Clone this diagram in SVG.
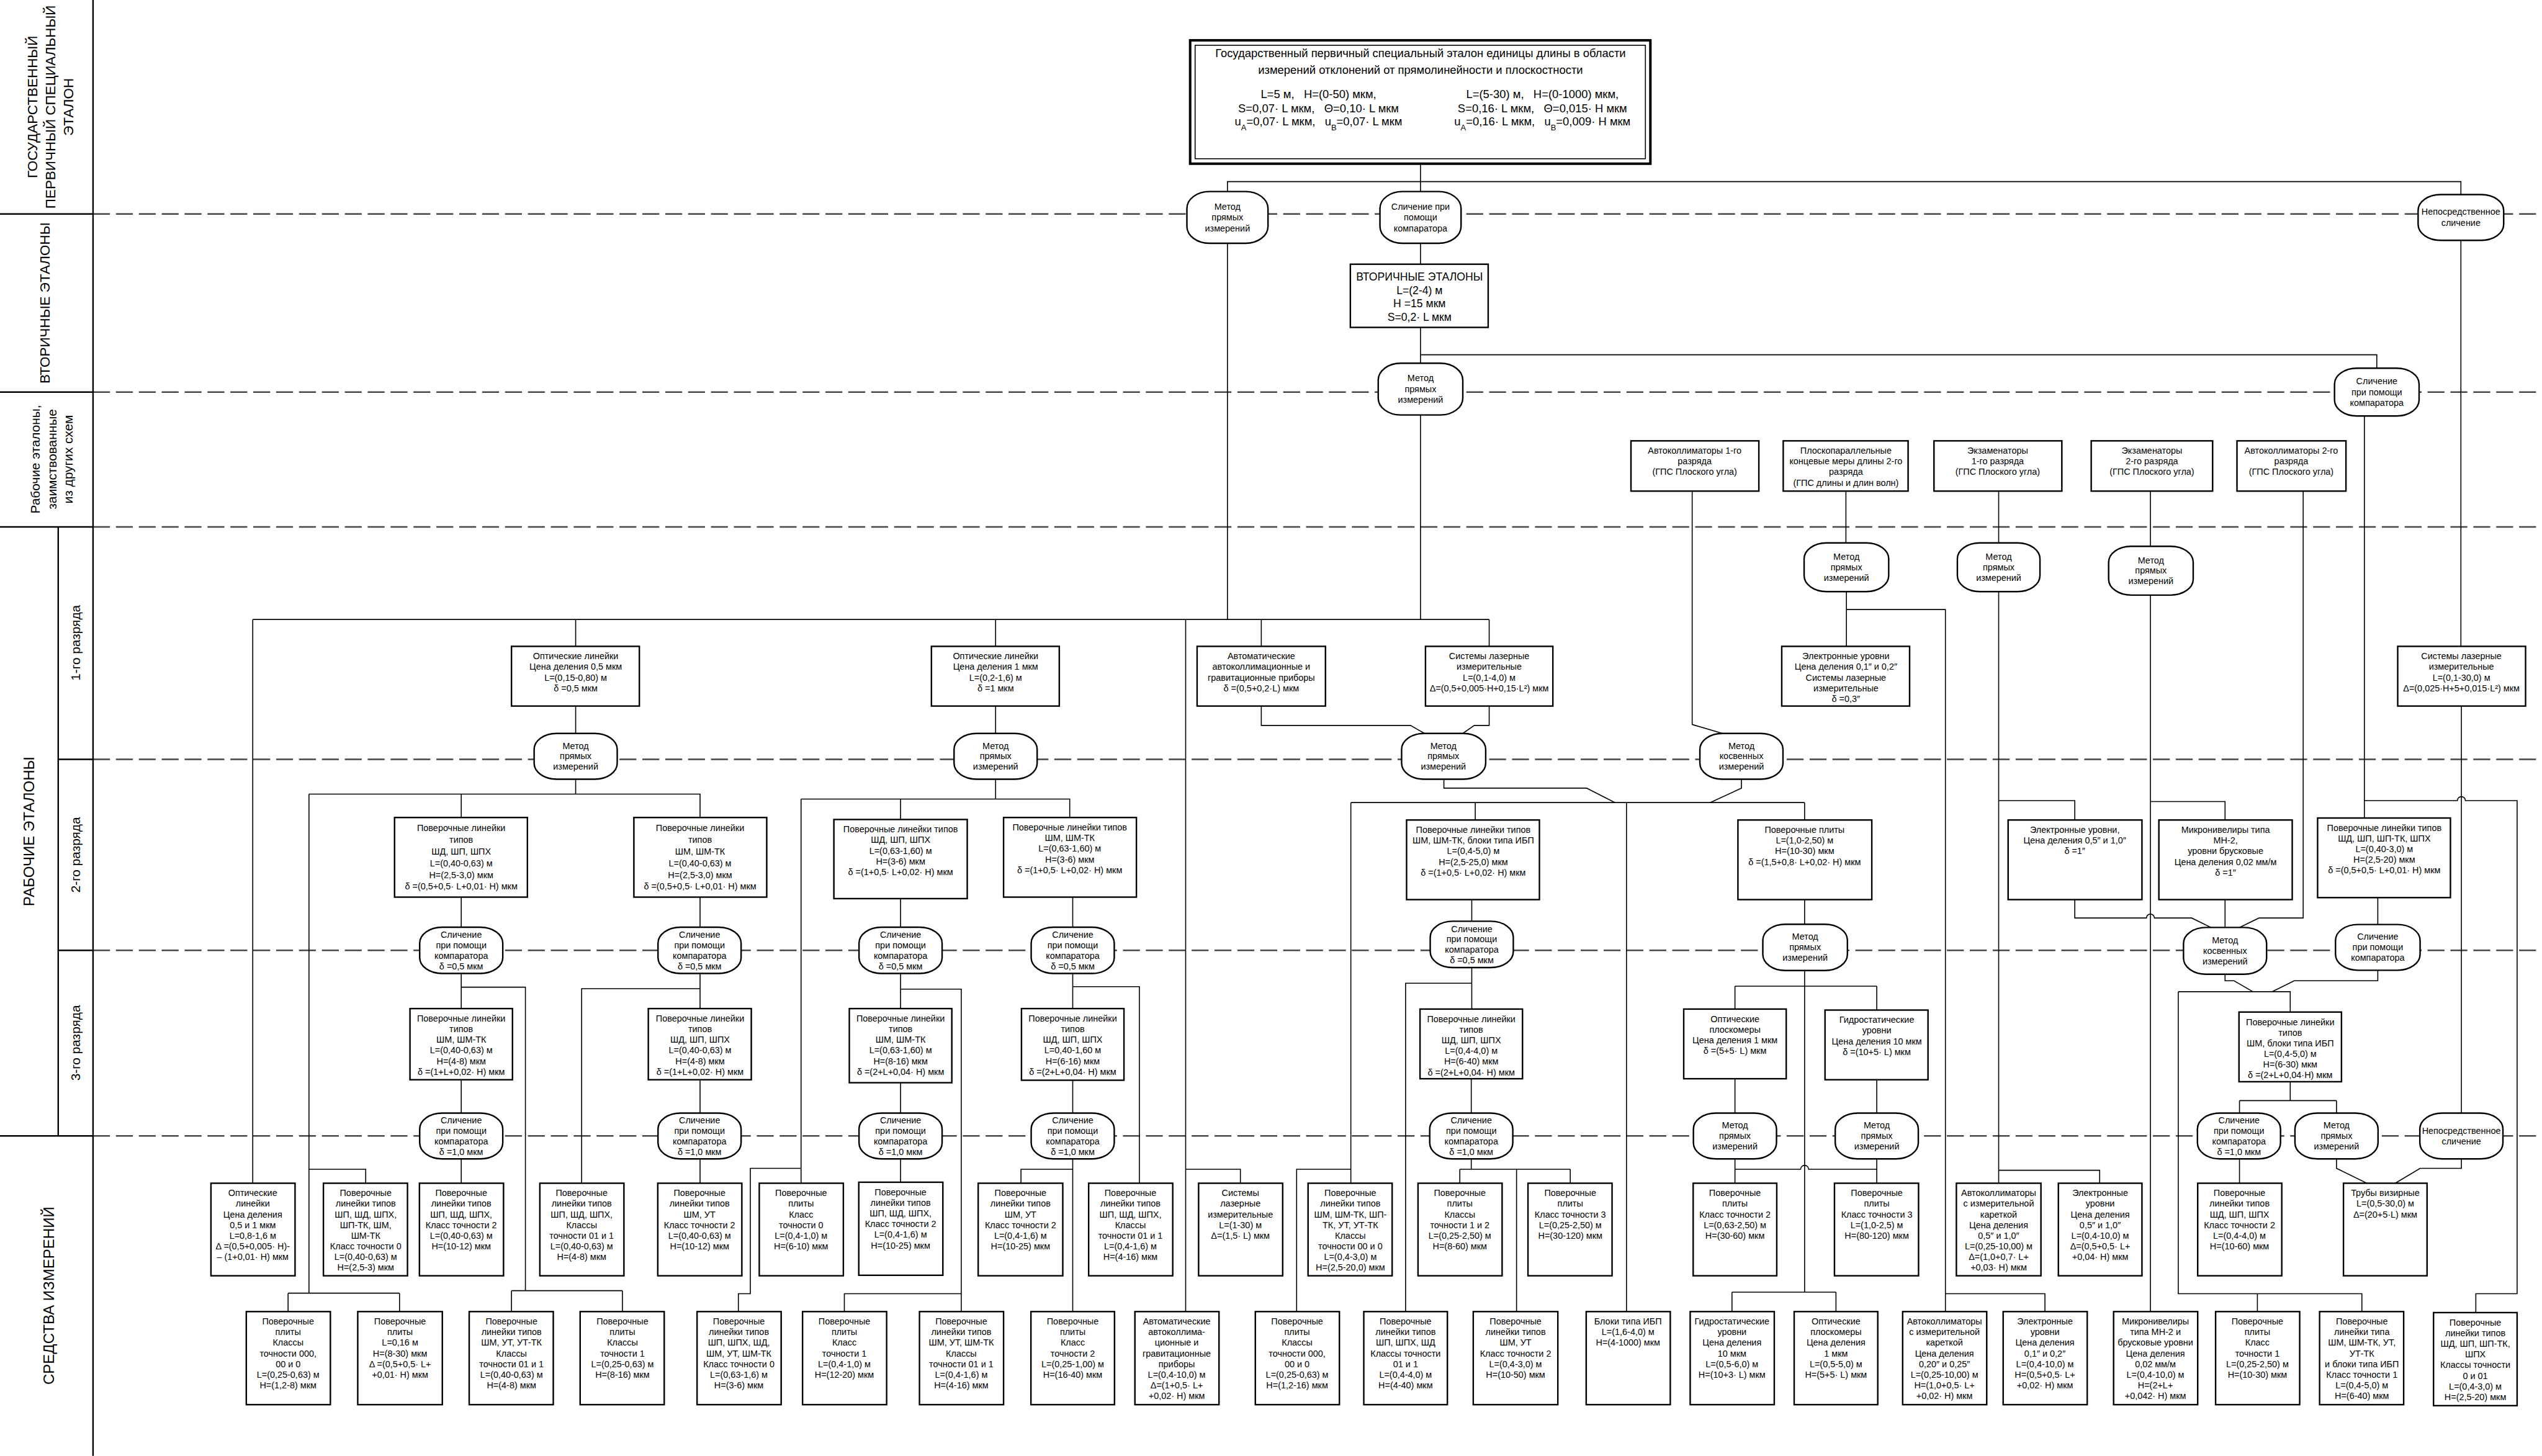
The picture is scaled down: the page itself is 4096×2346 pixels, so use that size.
<svg xmlns="http://www.w3.org/2000/svg" width="4096" height="2346" viewBox="0 0 4096 2346">
<style>
.b{fill:#fff;stroke:#000;stroke-width:3}
.o{fill:#fff;stroke:#000;stroke-width:3}
.c{fill:none;stroke:#000;stroke-width:2}
.f{fill:none;stroke:#000;stroke-width:3}
.d{fill:none;stroke:#444;stroke-width:3;stroke-dasharray:34 12}
text{font-family:"Liberation Sans",Arial,sans-serif;font-size:18px;text-anchor:middle;fill:#000}
.lb{font-size:28px}
.lm{font-size:26px}
.tt{font-size:23px}
.v{font-size:22px}
</style>
<rect width="4096" height="2346" fill="#fff"/>
<g transform="scale(0.80172)">
<g id="frame">
<path class="d" d="M187 430H5109M187 788H5109M187 1059H5109M187 1526H5109M187 1910H5109M187 2283H5109"/>
<path class="f" d="M187 0V2926M117 1059V2283M0 430H187M0 788H187M0 1059H187M0 2283H187M117 1526H187M117 1910H187"/>
<text class="lb" transform="translate(0,215) rotate(-90)"><tspan x="0" y="75">ГОСУДАРСТВЕННЫЙ</tspan><tspan x="0" y="111">ПЕРВИЧНЫЙ СПЕЦИАЛЬНЫЙ</tspan><tspan x="0" y="147">ЭТАЛОН</tspan></text>
<text class="lb" transform="translate(0,609) rotate(-90)" x="0" y="100">ВТОРИЧНЫЕ ЭТАЛОНЫ</text>
<text class="lm" transform="translate(0,923) rotate(-90)"><tspan x="0" y="80">Рабочие эталоны,</tspan><tspan x="0" y="113">заимствованные</tspan><tspan x="0" y="146">из других схем</tspan></text>
<text class="lb" style="font-size:30px" transform="translate(0,1671) rotate(-90)" x="0" y="69">РАБОЧИЕ ЭТАЛОНЫ</text>
<text class="lm" transform="translate(0,1292) rotate(-90)" x="0" y="161">1-го разряда</text>
<text class="lm" transform="translate(0,1718) rotate(-90)" x="0" y="161">2-го разряда</text>
<text class="lm" transform="translate(0,2096) rotate(-90)" x="0" y="161">3-го разряда</text>
<text class="lb" style="font-size:30px" transform="translate(0,2604) rotate(-90)" x="0" y="108">СРЕДСТВА ИЗМЕРЕНИЙ</text>
</g>
<g id="connectors">
<path class="c" d="M2855 329V385M2467 385V365H4946V391M2855 489V531M2855 658V730M2855 713H4777V740M2467 489V1245M2855 834V1245M508 1245H2993M508 1245V2378M1157 1245V1299M2001 1245V1299M2383 1245V2636M2535 1245V1299M2993 1245V1299M4946 483V1299"/>
<path class="c" d="M4752 836V1644M4752 1609H4939A8 8 0 0 1 4955 1609H5059V2600H4976V2638"/>
<path class="c" d="M3401 987V1456L3462 1474M3710 987V1091M4017 987V1091M4322 987V1098M4629 987V1845H4540L4501 1864"/>
<path class="c" d="M3711 1189V1299M3711 1225H3910V2636M3910 2600H4110V2636M4017 1189V2378M4017 1609H4170V1648M4017 2352H4220V2378M4322 1196V2636M4322 1611H4472V1648"/>
<path class="c" d="M4170 1808V1845H4314A8 8 0 0 1 4330 1845H4405L4444 1864M4472 1808V1864M4472 1958V1971H4490L4528 1993M4779 1950V1971H4611L4567 1993M4378 1993H4603V2034M4378 1993V2600H4747V2636M4537 2600V2636M4779 1804V1858"/>
<path class="c" d="M4603 2174V2212M4501 2212H4696M4501 2212V2237M4696 2212V2237M4501 2329V2378M4696 2329V2348L4757 2378M4947 2329V2348H4864L4814 2378M4947 1419V2237"/>
<path class="c" d="M1157 1419V1474M1157 1566V1596M621 1596H1407V1643M927 1596V1643M621 1596V2599M621 2350H735V2378M579 2599H803M579 2599V2636M803 2599V2636"/>
<path class="c" d="M927 1803V1864M927 1957V2027M927 1984H1056V2594M1028 2594H1251M1028 2594V2636M1251 2594V2636M927 2170V2237M927 2329V2378"/>
<path class="c" d="M1407 1803V1864M1407 1957V2027M1407 1987H1169V2378M1407 2170V2237M1407 2329V2378"/>
<path class="c" d="M2001 1419V1474M2001 1566V1606M1610 1606H2150V1643M1810 1606V1647M1610 1606V2378M1610 2348H1508V2600H1484V2636"/>
<path class="c" d="M1810 1806V1864M1810 1957V2027M1810 1988H1932V2636M1932 2600H1697V2636M1810 2176V2237M1810 2329V2376"/>
<path class="c" d="M2156 1803V1864M2156 1957V2027M2156 1983H2290V2378M2156 2171V2237M2156 2329V2636M2156 2350H2052V2378M2383 2350H2493V2378"/>
<path class="c" d="M2535 1419V1458H2835L2863 1474M2993 1419V1458H2963L2940 1474M2902 1566V1584H3189L3246 1613M3500 1566V1584L3437 1613"/>
<path class="c" d="M2715 1613H3627M2715 1613V2378M2715 2350H2606V2636M2965 1613V1648M3269 1613V2636M3627 1613V1648"/>
<path class="c" d="M2958 1808V1851M2958 1944V2028M2958 1976H2825V2636M2957 2168V2237M2957 2329V2350M2934 2350H3156M2934 2350V2378M3156 2350V2378M3048 2350V2636"/>
<path class="c" d="M3627 1808V1858M3627 1951V2597M3487 1982H3772M3487 1982V2028M3772 1982V2030M3481 2597H3690M3481 2597V2636M3690 2597V2636M3487 2168V2237M3772 2170V2237M3487 2329V2378M3772 2329V2378M3487 2350H3619A8 8 0 0 1 3635 2350H3772"/>
</g>
<g id="title">
<rect x="2392" y="81" width="925" height="248" fill="#fff" stroke="#000" stroke-width="5"/>
<rect x="2402" y="91" width="905" height="228" fill="none" stroke="#000" stroke-width="2"/>
<text class="tt" x="2855" y="115">Государственный первичный специальный эталон единицы длины в области</text>
<text class="tt" x="2855" y="148">измерений отклонений от прямолинейности и плоскостности</text>
<text class="tt" x="2650" y="197" xml:space="preserve">L=5 м,   H=(0-50) мкм,</text>
<text class="tt" x="2650" y="226" xml:space="preserve">S=0,07· L мкм,   Θ=0,10· L мкм</text>
<text class="tt" x="2650" y="252" xml:space="preserve">u<tspan baseline-shift="sub" font-size="16">A</tspan>=0,07· L мкм,   u<tspan baseline-shift="sub" font-size="16">B</tspan>=0,07· L мкм</text>
<text class="tt" x="3100" y="197" xml:space="preserve">L=(5-30) м,   H=(0-1000) мкм,</text>
<text class="tt" x="3100" y="226" xml:space="preserve">S=0,16· L мкм,   Θ=0,015· H мкм</text>
<text class="tt" x="3100" y="252" xml:space="preserve">u<tspan baseline-shift="sub" font-size="16">A</tspan>=0,16· L мкм,   u<tspan baseline-shift="sub" font-size="16">B</tspan>=0,009· H мкм</text>
</g>
<g id="s_m1"><rect class="o" x="2385.5" y="385" width="163" height="104" rx="45" ry="34"/><text x="2467" y="421"><tspan x="2467">Метод</tspan><tspan x="2467" dy="22">прямых</tspan><tspan x="2467" dy="22">измерений</tspan></text></g>
<g id="s_c1"><rect class="o" x="2773.5" y="385" width="163" height="104" rx="45" ry="34"/><text x="2855" y="421"><tspan x="2855">Сличение при</tspan><tspan x="2855" dy="22">помощи</tspan><tspan x="2855" dy="22">компаратора</tspan></text></g>
<g id="s_n1"><rect class="o" x="4860" y="391" width="172" height="92" rx="45" ry="32"/><text x="4946" y="432"><tspan x="4946">Непосредственное</tspan><tspan x="4946" dy="22">сличение</tspan></text></g>
<g id="sec"><rect class="b" x="2714" y="531" width="277" height="127"/><text class="v" x="2853" y="564"><tspan x="2853">ВТОРИЧНЫЕ ЭТАЛОНЫ</tspan><tspan x="2853" dy="27">L=(2-4) м</tspan><tspan x="2853" dy="27">H =15 мкм</tspan><tspan x="2853" dy="27">S=0,2· L мкм</tspan></text></g>
<g id="s_m2"><rect class="o" x="2770" y="730" width="170" height="104" rx="45" ry="34"/><text x="2855" y="766"><tspan x="2855">Метод</tspan><tspan x="2855" dy="22">прямых</tspan><tspan x="2855" dy="22">измерений</tspan></text></g>
<g id="s_c2"><rect class="o" x="4692" y="740" width="170" height="96" rx="45" ry="32"/><text x="4777" y="772"><tspan x="4777">Сличение</tspan><tspan x="4777" dy="22">при помощи</tspan><tspan x="4777" dy="22">компаратора</tspan></text></g>
<g id="r1"><rect class="b" x="3278" y="886" width="257" height="101"/><text x="3406" y="912"><tspan x="3406">Автоколлиматоры 1-го</tspan><tspan x="3406" dy="21.4">разряда</tspan><tspan x="3406" dy="21.4">(ГПС Плоского угла)</tspan></text></g>
<g id="r2"><rect class="b" x="3584" y="886" width="251" height="101"/><text x="3710" y="912"><tspan x="3710">Плоскопараллельные</tspan><tspan x="3710" dy="21.4">концевые меры длины 2-го</tspan><tspan x="3710" dy="21.4">разряда</tspan><tspan x="3710" dy="21.4">(ГПС длины и длин волн)</tspan></text></g>
<g id="r3"><rect class="b" x="3887" y="886" width="257" height="101"/><text x="4015" y="912"><tspan x="4015">Экзаменаторы</tspan><tspan x="4015" dy="21.4">1-го разряда</tspan><tspan x="4015" dy="21.4">(ГПС Плоского угла)</tspan></text></g>
<g id="r4"><rect class="b" x="4203" y="886" width="244" height="101"/><text x="4325" y="912"><tspan x="4325">Экзаменаторы</tspan><tspan x="4325" dy="21.4">2-го разряда</tspan><tspan x="4325" dy="21.4">(ГПС Плоского угла)</tspan></text></g>
<g id="r5"><rect class="b" x="4496" y="886" width="219" height="101"/><text x="4605" y="912"><tspan x="4605">Автоколлиматоры 2-го</tspan><tspan x="4605" dy="21.4">разряда</tspan><tspan x="4605" dy="21.4">(ГПС Плоского угла)</tspan></text></g>
<g id="o1a"><rect class="o" x="3626" y="1091" width="170" height="98" rx="45" ry="32"/><text x="3711" y="1125"><tspan x="3711">Метод</tspan><tspan x="3711" dy="21">прямых</tspan><tspan x="3711" dy="21">измерений</tspan></text></g>
<g id="o1b"><rect class="o" x="3934" y="1091" width="166" height="98" rx="45" ry="32"/><text x="4017" y="1125"><tspan x="4017">Метод</tspan><tspan x="4017" dy="21">прямых</tspan><tspan x="4017" dy="21">измерений</tspan></text></g>
<g id="o1c"><rect class="o" x="4238" y="1098" width="170" height="98" rx="45" ry="32"/><text x="4323" y="1132"><tspan x="4323">Метод</tspan><tspan x="4323" dy="21">прямых</tspan><tspan x="4323" dy="21">измерений</tspan></text></g>
<g id="b1_1"><rect class="b" x="1028" y="1299" width="257" height="120"/><text x="1157" y="1325"><tspan x="1157">Оптические линейки</tspan><tspan x="1157" dy="21.4">Цена деления 0,5 мкм</tspan><tspan x="1157" dy="21.4">L=(0,15-0,80) м</tspan><tspan x="1157" dy="21.4">δ =0,5 мкм</tspan></text></g>
<g id="b1_2"><rect class="b" x="1872" y="1299" width="257" height="120"/><text x="2001" y="1325"><tspan x="2001">Оптические линейки</tspan><tspan x="2001" dy="21.4">Цена деления 1 мкм</tspan><tspan x="2001" dy="21.4">L=(0,2-1,6) м</tspan><tspan x="2001" dy="21.4">δ =1 мкм</tspan></text></g>
<g id="b1_3"><rect class="b" x="2406" y="1299" width="258" height="120"/><text x="2535" y="1325"><tspan x="2535">Автоматические</tspan><tspan x="2535" dy="21.4">автоколлимационные и</tspan><tspan x="2535" dy="21.4">гравитационные приборы</tspan><tspan x="2535" dy="21.4">δ =(0,5+0,2·L) мкм</tspan></text></g>
<g id="b1_4"><rect class="b" x="2865" y="1299" width="256" height="120"/><text x="2993" y="1325"><tspan x="2993">Системы лазерные</tspan><tspan x="2993" dy="21.4">измерительные</tspan><tspan x="2993" dy="21.4">L=(0,1-4,0) м</tspan><tspan x="2993" dy="21.4">Δ=(0,5+0,005·H+0,15·L²) мкм</tspan></text></g>
<g id="b1_5"><rect class="b" x="3581" y="1299" width="257" height="120"/><text x="3710" y="1325"><tspan x="3710">Электронные уровни</tspan><tspan x="3710" dy="21.4">Цена деления 0,1″ и 0,2″</tspan><tspan x="3710" dy="21.4">Системы лазерные</tspan><tspan x="3710" dy="21.4">измерительные</tspan><tspan x="3710" dy="21.4">δ =0,3″</tspan></text></g>
<g id="b1_6"><rect class="b" x="4819" y="1299" width="257" height="120"/><text x="4947" y="1325"><tspan x="4947">Системы лазерные</tspan><tspan x="4947" dy="21.4">измерительные</tspan><tspan x="4947" dy="21.4">L=(0,1-30,0) м</tspan><tspan x="4947" dy="21.4">Δ=(0,025·H+5+0,015·L²) мкм</tspan></text></g>
<g id="o2a"><rect class="o" x="1073.5" y="1474" width="167" height="92" rx="45" ry="32"/><text x="1157" y="1505"><tspan x="1157">Метод</tspan><tspan x="1157" dy="21">прямых</tspan><tspan x="1157" dy="21">измерений</tspan></text></g>
<g id="o2b"><rect class="o" x="1917.5" y="1474" width="167" height="92" rx="45" ry="32"/><text x="2001" y="1505"><tspan x="2001">Метод</tspan><tspan x="2001" dy="21">прямых</tspan><tspan x="2001" dy="21">измерений</tspan></text></g>
<g id="o2c"><rect class="o" x="2817" y="1474" width="169" height="92" rx="45" ry="32"/><text x="2901" y="1505"><tspan x="2901">Метод</tspan><tspan x="2901" dy="21">прямых</tspan><tspan x="2901" dy="21">измерений</tspan></text></g>
<g id="o2d"><rect class="o" x="3416.5" y="1474" width="167" height="92" rx="45" ry="32"/><text x="3500" y="1505"><tspan x="3500">Метод</tspan><tspan x="3500" dy="21">косвенных</tspan><tspan x="3500" dy="21">измерений</tspan></text></g>
<g id="b2_1"><rect class="b" x="793" y="1643" width="267" height="160"/><text x="927" y="1670"><tspan x="927">Поверочные  линейки</tspan><tspan x="927" dy="23.6">типов</tspan><tspan x="927" dy="23.6">ШД, ШП, ШПХ</tspan><tspan x="927" dy="23.6">L=(0,40-0,63) м</tspan><tspan x="927" dy="23.6">H=(2,5-3,0) мкм</tspan><tspan x="927" dy="23.6">δ =(0,5+0,5· L+0,01· H) мкм</tspan></text></g>
<g id="b2_2"><rect class="b" x="1274" y="1643" width="267" height="160"/><text x="1407" y="1670"><tspan x="1407">Поверочные  линейки</tspan><tspan x="1407" dy="23.6">типов</tspan><tspan x="1407" dy="23.6">ШМ, ШМ-ТК</tspan><tspan x="1407" dy="23.6">L=(0,40-0,63) м</tspan><tspan x="1407" dy="23.6">H=(2,5-3,0) мкм</tspan><tspan x="1407" dy="23.6">δ =(0,5+0,5· L+0,01· H) мкм</tspan></text></g>
<g id="b2_3"><rect class="b" x="1676" y="1647" width="268" height="159"/><text x="1810" y="1673"><tspan x="1810">Поверочные  линейки типов</tspan><tspan x="1810" dy="21.4">ШД, ШП, ШПХ</tspan><tspan x="1810" dy="21.4">L=(0,63-1,60) м</tspan><tspan x="1810" dy="21.4">H=(3-6) мкм</tspan><tspan x="1810" dy="21.4">δ =(1+0,5· L+0,02· H) мкм</tspan></text></g>
<g id="b2_4"><rect class="b" x="2017" y="1643" width="267" height="160"/><text x="2150" y="1669"><tspan x="2150">Поверочные  линейки типов</tspan><tspan x="2150" dy="21.4">ШМ, ШМ-ТК</tspan><tspan x="2150" dy="21.4">L=(0,63-1,60) м</tspan><tspan x="2150" dy="21.4">H=(3-6) мкм</tspan><tspan x="2150" dy="21.4">δ =(1+0,5· L+0,02· H) мкм</tspan></text></g>
<g id="b2_5"><rect class="b" x="2827" y="1648" width="267" height="160"/><text x="2961" y="1674"><tspan x="2961">Поверочные  линейки типов</tspan><tspan x="2961" dy="21.4">ШМ, ШМ-ТК, блоки типа ИБП</tspan><tspan x="2961" dy="21.4">L=(0,4-5,0) м</tspan><tspan x="2961" dy="21.4">H=(2,5-25,0) мкм</tspan><tspan x="2961" dy="21.4">δ =(1+0,5· L+0,02· H) мкм</tspan></text></g>
<g id="b2_6"><rect class="b" x="3493" y="1648" width="269" height="160"/><text x="3627" y="1674"><tspan x="3627">Поверочные плиты</tspan><tspan x="3627" dy="21.4">L=(1,0-2,50) м</tspan><tspan x="3627" dy="21.4">H=(10-30) мкм</tspan><tspan x="3627" dy="21.4">δ =(1,5+0,8· L+0,02· H) мкм</tspan></text></g>
<g id="b2_7"><rect class="b" x="4036" y="1648" width="269" height="160"/><text x="4170" y="1674"><tspan x="4170">Электронные уровни,</tspan><tspan x="4170" dy="21.4">Цена деления 0,5″ и 1,0″</tspan><tspan x="4170" dy="21.4">δ =1″</tspan></text></g>
<g id="b2_8"><rect class="b" x="4339" y="1648" width="268" height="160"/><text x="4473" y="1674"><tspan x="4473">Микронивелиры типа</tspan><tspan x="4473" dy="21.4">МН-2,</tspan><tspan x="4473" dy="21.4">уровни брусковые</tspan><tspan x="4473" dy="21.4">Цена деления 0,02 мм/м</tspan><tspan x="4473" dy="21.4">δ =1″</tspan></text></g>
<g id="b2_9"><rect class="b" x="4658" y="1644" width="267" height="160"/><text x="4792" y="1670"><tspan x="4792">Поверочные  линейки типов</tspan><tspan x="4792" dy="21.4">ШД, ШП, ШП-ТК, ШПХ</tspan><tspan x="4792" dy="21.4">L=(0,40-3,0) м</tspan><tspan x="4792" dy="21.4">H=(2,5-20) мкм</tspan><tspan x="4792" dy="21.4">δ =(0,5+0,5· L+0,01· H) мкм</tspan></text></g>
<g id="o3a"><rect class="o" x="843.5" y="1863.5" width="167" height="93" rx="45" ry="32"/><text x="927" y="1885"><tspan x="927">Сличение</tspan><tspan x="927" dy="21">при помощи</tspan><tspan x="927" dy="21">компаратора</tspan><tspan x="927" dy="21">δ =0,5 мкм</tspan></text></g>
<g id="o3b"><rect class="o" x="1322.5" y="1863.5" width="167" height="93" rx="45" ry="32"/><text x="1406" y="1885"><tspan x="1406">Сличение</tspan><tspan x="1406" dy="21">при помощи</tspan><tspan x="1406" dy="21">компаратора</tspan><tspan x="1406" dy="21">δ =0,5 мкм</tspan></text></g>
<g id="o3c"><rect class="o" x="1726.5" y="1863.5" width="167" height="93" rx="45" ry="32"/><text x="1810" y="1885"><tspan x="1810">Сличение</tspan><tspan x="1810" dy="21">при помощи</tspan><tspan x="1810" dy="21">компаратора</tspan><tspan x="1810" dy="21">δ =0,5 мкм</tspan></text></g>
<g id="o3d"><rect class="o" x="2072.5" y="1863.5" width="167" height="93" rx="45" ry="32"/><text x="2156" y="1885"><tspan x="2156">Сличение</tspan><tspan x="2156" dy="21">при помощи</tspan><tspan x="2156" dy="21">компаратора</tspan><tspan x="2156" dy="21">δ =0,5 мкм</tspan></text></g>
<g id="o3e"><rect class="o" x="2874.5" y="1851.5" width="167" height="93" rx="45" ry="32"/><text x="2958" y="1873"><tspan x="2958">Сличение</tspan><tspan x="2958" dy="21">при помощи</tspan><tspan x="2958" dy="21">компаратора</tspan><tspan x="2958" dy="21">δ =0,5 мкм</tspan></text></g>
<g id="o3f"><rect class="o" x="3543" y="1857.5" width="170" height="93" rx="45" ry="32"/><text x="3628" y="1889"><tspan x="3628">Метод</tspan><tspan x="3628" dy="21">прямых</tspan><tspan x="3628" dy="21">измерений</tspan></text></g>
<g id="o3g"><rect class="o" x="4388.5" y="1864" width="167" height="94" rx="45" ry="32"/><text x="4472" y="1896"><tspan x="4472">Метод</tspan><tspan x="4472" dy="21">косвенных</tspan><tspan x="4472" dy="21">измерений</tspan></text></g>
<g id="o3h"><rect class="o" x="4694" y="1858" width="170" height="92" rx="45" ry="32"/><text x="4779" y="1889"><tspan x="4779">Сличение</tspan><tspan x="4779" dy="21">при помощи</tspan><tspan x="4779" dy="21">компаратора</tspan></text></g>
<g id="b3_1"><rect class="b" x="824" y="2027" width="206" height="143"/><text x="927" y="2053"><tspan x="927">Поверочные  линейки</tspan><tspan x="927" dy="21.4">типов</tspan><tspan x="927" dy="21.4">ШМ, ШМ-ТК</tspan><tspan x="927" dy="21.4">L=(0,40-0,63) м</tspan><tspan x="927" dy="21.4">H=(4-8) мкм</tspan><tspan x="927" dy="21.4">δ =(1+L+0,02· H) мкм</tspan></text></g>
<g id="b3_2"><rect class="b" x="1303" y="2027" width="207" height="143"/><text x="1407" y="2053"><tspan x="1407">Поверочные  линейки</tspan><tspan x="1407" dy="21.4">типов</tspan><tspan x="1407" dy="21.4">ШД, ШП, ШПХ</tspan><tspan x="1407" dy="21.4">L=(0,40-0,63) м</tspan><tspan x="1407" dy="21.4">H=(4-8) мкм</tspan><tspan x="1407" dy="21.4">δ =(1+L+0,02· H) мкм</tspan></text></g>
<g id="b3_3"><rect class="b" x="1707" y="2027" width="206" height="149"/><text x="1810" y="2053"><tspan x="1810">Поверочные  линейки</tspan><tspan x="1810" dy="21.4">типов</tspan><tspan x="1810" dy="21.4">ШМ, ШМ-ТК</tspan><tspan x="1810" dy="21.4">L=(0,63-1,60) м</tspan><tspan x="1810" dy="21.4">H=(8-16) мкм</tspan><tspan x="1810" dy="21.4">δ =(2+L+0,04· H) мкм</tspan></text></g>
<g id="b3_4"><rect class="b" x="2053" y="2027" width="206" height="144"/><text x="2156" y="2053"><tspan x="2156">Поверочные  линейки</tspan><tspan x="2156" dy="21.4">типов</tspan><tspan x="2156" dy="21.4">ШД, ШП, ШПХ</tspan><tspan x="2156" dy="21.4">L=0,40-1,60 м</tspan><tspan x="2156" dy="21.4">H=(6-16) мкм</tspan><tspan x="2156" dy="21.4">δ =(2+L+0,04· H) мкм</tspan></text></g>
<g id="b3_5"><rect class="b" x="2854" y="2028" width="206" height="140"/><text x="2957" y="2054"><tspan x="2957">Поверочные  линейки</tspan><tspan x="2957" dy="21.4">типов</tspan><tspan x="2957" dy="21.4">ШД, ШП, ШПХ</tspan><tspan x="2957" dy="21.4">L=(0,4-4,0) м</tspan><tspan x="2957" dy="21.4">H=(6-40) мкм</tspan><tspan x="2957" dy="21.4">δ =(2+L+0,04· H) мкм</tspan></text></g>
<g id="b3_6"><rect class="b" x="3384" y="2028" width="206" height="140"/><text x="3487" y="2054"><tspan x="3487">Оптические</tspan><tspan x="3487" dy="21.4">плоскомеры</tspan><tspan x="3487" dy="21.4">Цена деления 1 мкм</tspan><tspan x="3487" dy="21.4">δ =(5+5· L) мкм</tspan></text></g>
<g id="b3_7"><rect class="b" x="3668" y="2030" width="207" height="140"/><text x="3772" y="2056"><tspan x="3772">Гидростатические</tspan><tspan x="3772" dy="21.4">уровни</tspan><tspan x="3772" dy="21.4">Цена деления 10 мкм</tspan><tspan x="3772" dy="21.4">δ =(10+5· L) мкм</tspan></text></g>
<g id="b3_8"><rect class="b" x="4500" y="2034" width="206" height="140"/><text x="4603" y="2060"><tspan x="4603">Поверочные  линейки</tspan><tspan x="4603" dy="21.4">типов</tspan><tspan x="4603" dy="21.4">ШМ, блоки типа ИБП</tspan><tspan x="4603" dy="21.4">L=(0,4-5,0) м</tspan><tspan x="4603" dy="21.4">H=(6-30) мкм</tspan><tspan x="4603" dy="21.4">δ =(2+L+0,04·H) мкм</tspan></text></g>
<g id="o4a"><rect class="o" x="843.5" y="2237" width="167" height="92" rx="45" ry="32"/><text x="927" y="2258"><tspan x="927">Сличение</tspan><tspan x="927" dy="21">при помощи</tspan><tspan x="927" dy="21">компаратора</tspan><tspan x="927" dy="21">δ =1,0 мкм</tspan></text></g>
<g id="o4b"><rect class="o" x="1322.5" y="2237" width="167" height="92" rx="45" ry="32"/><text x="1406" y="2258"><tspan x="1406">Сличение</tspan><tspan x="1406" dy="21">при помощи</tspan><tspan x="1406" dy="21">компаратора</tspan><tspan x="1406" dy="21">δ =1,0 мкм</tspan></text></g>
<g id="o4c"><rect class="o" x="1726.5" y="2237" width="167" height="92" rx="45" ry="32"/><text x="1810" y="2258"><tspan x="1810">Сличение</tspan><tspan x="1810" dy="21">при помощи</tspan><tspan x="1810" dy="21">компаратора</tspan><tspan x="1810" dy="21">δ =1,0 мкм</tspan></text></g>
<g id="o4d"><rect class="o" x="2072.5" y="2237" width="167" height="92" rx="45" ry="32"/><text x="2156" y="2258"><tspan x="2156">Сличение</tspan><tspan x="2156" dy="21">при помощи</tspan><tspan x="2156" dy="21">компаратора</tspan><tspan x="2156" dy="21">δ =1,0 мкм</tspan></text></g>
<g id="o4e"><rect class="o" x="2873.5" y="2237" width="167" height="92" rx="45" ry="32"/><text x="2957" y="2258"><tspan x="2957">Сличение</tspan><tspan x="2957" dy="21">при помощи</tspan><tspan x="2957" dy="21">компаратора</tspan><tspan x="2957" dy="21">δ =1,0 мкм</tspan></text></g>
<g id="o4f"><rect class="o" x="3403.5" y="2237" width="167" height="92" rx="45" ry="32"/><text x="3487" y="2268"><tspan x="3487">Метод</tspan><tspan x="3487" dy="21">прямых</tspan><tspan x="3487" dy="21">измерений</tspan></text></g>
<g id="o4g"><rect class="o" x="3688.5" y="2237" width="167" height="92" rx="45" ry="32"/><text x="3772" y="2268"><tspan x="3772">Метод</tspan><tspan x="3772" dy="21">прямых</tspan><tspan x="3772" dy="21">измерений</tspan></text></g>
<g id="o4h"><rect class="o" x="4416.5" y="2237" width="167" height="92" rx="45" ry="32"/><text x="4500" y="2258"><tspan x="4500">Сличение</tspan><tspan x="4500" dy="21">при помощи</tspan><tspan x="4500" dy="21">компаратора</tspan><tspan x="4500" dy="21">δ =1,0 мкм</tspan></text></g>
<g id="o4i"><rect class="o" x="4612.5" y="2237" width="167" height="92" rx="45" ry="32"/><text x="4696" y="2268"><tspan x="4696">Метод</tspan><tspan x="4696" dy="21">прямых</tspan><tspan x="4696" dy="21">измерений</tspan></text></g>
<g id="o4j"><rect class="o" x="4863.5" y="2237" width="167" height="92" rx="45" ry="32"/><text x="4947" y="2279"><tspan x="4947">Непосредственное</tspan><tspan x="4947" dy="21">сличение</tspan></text></g>
<g id="m1"><rect class="b" x="424" y="2378" width="169" height="186"/><text x="508" y="2404"><tspan x="508">Оптические</tspan><tspan x="508" dy="21.4">линейки</tspan><tspan x="508" dy="21.4">Цена деления</tspan><tspan x="508" dy="21.4">0,5 и 1 мкм</tspan><tspan x="508" dy="21.4">L=0,8-1,6 м</tspan><tspan x="508" dy="21.4">Δ =(0,5+0,005· H)-</tspan><tspan x="508" dy="21.4">– (1+0,01· H) мкм</tspan></text></g>
<g id="m2"><rect class="b" x="650" y="2378" width="169" height="186"/><text x="735" y="2404"><tspan x="735">Поверочные</tspan><tspan x="735" dy="21.4">линейки типов</tspan><tspan x="735" dy="21.4">ШП, ШД, ШПХ,</tspan><tspan x="735" dy="21.4">ШП-ТК, ШМ,</tspan><tspan x="735" dy="21.4">ШМ-ТК</tspan><tspan x="735" dy="21.4">Класс  точности 0</tspan><tspan x="735" dy="21.4">L=(0,40-0,63) м</tspan><tspan x="735" dy="21.4">H=(2,5-3) мкм</tspan></text></g>
<g id="m3"><rect class="b" x="843" y="2378" width="169" height="186"/><text x="927" y="2404"><tspan x="927">Поверочные</tspan><tspan x="927" dy="21.4">линейки типов</tspan><tspan x="927" dy="21.4">ШП, ШД, ШПХ,</tspan><tspan x="927" dy="21.4">Класс  точности 2</tspan><tspan x="927" dy="21.4">L=(0,40-0,63) м</tspan><tspan x="927" dy="21.4">H=(10-12) мкм</tspan></text></g>
<g id="m4"><rect class="b" x="1085" y="2378" width="169" height="186"/><text x="1169" y="2404"><tspan x="1169">Поверочные</tspan><tspan x="1169" dy="21.4">линейки типов</tspan><tspan x="1169" dy="21.4">ШП, ШД, ШПХ,</tspan><tspan x="1169" dy="21.4">Классы</tspan><tspan x="1169" dy="21.4">точности 01 и 1</tspan><tspan x="1169" dy="21.4">L=(0,40-0,63) м</tspan><tspan x="1169" dy="21.4">H=(4-8) мкм</tspan></text></g>
<g id="m5"><rect class="b" x="1322" y="2378" width="169" height="186"/><text x="1406" y="2404"><tspan x="1406">Поверочные</tspan><tspan x="1406" dy="21.4">линейки типов</tspan><tspan x="1406" dy="21.4">ШМ, УТ</tspan><tspan x="1406" dy="21.4">Класс  точности 2</tspan><tspan x="1406" dy="21.4">L=(0,40-0,63) м</tspan><tspan x="1406" dy="21.4">H=(10-12) мкм</tspan></text></g>
<g id="m6"><rect class="b" x="1526" y="2378" width="169" height="186"/><text x="1610" y="2404"><tspan x="1610">Поверочные</tspan><tspan x="1610" dy="21.4">плиты</tspan><tspan x="1610" dy="21.4">Класс</tspan><tspan x="1610" dy="21.4">точности 0</tspan><tspan x="1610" dy="21.4">L=(0,4-1,0) м</tspan><tspan x="1610" dy="21.4">H=(6-10) мкм</tspan></text></g>
<g id="m7"><rect class="b" x="1726" y="2376" width="169" height="187"/><text x="1810" y="2402"><tspan x="1810">Поверочные</tspan><tspan x="1810" dy="21.4">линейки типов</tspan><tspan x="1810" dy="21.4">ШП, ШД, ШПХ,</tspan><tspan x="1810" dy="21.4">Класс  точности 2</tspan><tspan x="1810" dy="21.4">L=(0,4-1,6) м</tspan><tspan x="1810" dy="21.4">H=(10-25) мкм</tspan></text></g>
<g id="m8"><rect class="b" x="1966" y="2378" width="170" height="186"/><text x="2051" y="2404"><tspan x="2051">Поверочные</tspan><tspan x="2051" dy="21.4">линейки типов</tspan><tspan x="2051" dy="21.4">ШМ, УТ</tspan><tspan x="2051" dy="21.4">Класс точности 2</tspan><tspan x="2051" dy="21.4">L=(0,4-1,6) м</tspan><tspan x="2051" dy="21.4">H=(10-25) мкм</tspan></text></g>
<g id="m9"><rect class="b" x="2188" y="2378" width="169" height="186"/><text x="2272" y="2404"><tspan x="2272">Поверочные</tspan><tspan x="2272" dy="21.4">линейки типов</tspan><tspan x="2272" dy="21.4">ШП, ШД, ШПХ,</tspan><tspan x="2272" dy="21.4">Классы</tspan><tspan x="2272" dy="21.4">точности 01 и 1</tspan><tspan x="2272" dy="21.4">L=(0,4-1,6) м</tspan><tspan x="2272" dy="21.4">H=(4-16) мкм</tspan></text></g>
<g id="m10"><rect class="b" x="2409" y="2378" width="169" height="186"/><text x="2493" y="2404"><tspan x="2493">Системы</tspan><tspan x="2493" dy="21.4">лазерные</tspan><tspan x="2493" dy="21.4">измерительные</tspan><tspan x="2493" dy="21.4">L=(1-30) м</tspan><tspan x="2493" dy="21.4">Δ=(1,5· L) мкм</tspan></text></g>
<g id="m11"><rect class="b" x="2629" y="2378" width="169" height="186"/><text x="2714" y="2404"><tspan x="2714">Поверочные</tspan><tspan x="2714" dy="21.4">линейки типов</tspan><tspan x="2714" dy="21.4">ШМ, ШМ-ТК, ШП-</tspan><tspan x="2714" dy="21.4">ТК, УТ, УТ-ТК</tspan><tspan x="2714" dy="21.4">Классы</tspan><tspan x="2714" dy="21.4">точности 00 и 0</tspan><tspan x="2714" dy="21.4">L=(0,4-3,0) м</tspan><tspan x="2714" dy="21.4">H=(2,5-20,0) мкм</tspan></text></g>
<g id="m12"><rect class="b" x="2850" y="2378" width="169" height="186"/><text x="2934" y="2404"><tspan x="2934">Поверочные</tspan><tspan x="2934" dy="21.4">плиты</tspan><tspan x="2934" dy="21.4">Классы</tspan><tspan x="2934" dy="21.4">точности 1 и 2</tspan><tspan x="2934" dy="21.4">L=(0,25-2,50) м</tspan><tspan x="2934" dy="21.4">H=(8-60) мкм</tspan></text></g>
<g id="m13"><rect class="b" x="3071" y="2378" width="169" height="186"/><text x="3156" y="2404"><tspan x="3156">Поверочные</tspan><tspan x="3156" dy="21.4">плиты</tspan><tspan x="3156" dy="21.4">Класс точности 3</tspan><tspan x="3156" dy="21.4">L=(0,25-2,50) м</tspan><tspan x="3156" dy="21.4">H=(30-120) мкм</tspan></text></g>
<g id="m14"><rect class="b" x="3403" y="2378" width="168" height="186"/><text x="3487" y="2404"><tspan x="3487">Поверочные</tspan><tspan x="3487" dy="21.4">плиты</tspan><tspan x="3487" dy="21.4">Класс точности 2</tspan><tspan x="3487" dy="21.4">L=(0,63-2,50) м</tspan><tspan x="3487" dy="21.4">H=(30-60) мкм</tspan></text></g>
<g id="m15"><rect class="b" x="3687" y="2378" width="169" height="186"/><text x="3772" y="2404"><tspan x="3772">Поверочные</tspan><tspan x="3772" dy="21.4">плиты</tspan><tspan x="3772" dy="21.4">Класс точности 3</tspan><tspan x="3772" dy="21.4">L=(1,0-2,5) м</tspan><tspan x="3772" dy="21.4">H=(80-120) мкм</tspan></text></g>
<g id="mua"><rect class="b" x="3932" y="2378" width="170" height="186"/><text x="4017" y="2404"><tspan x="4017">Автоколлиматоры</tspan><tspan x="4017" dy="21.4">с измерительной</tspan><tspan x="4017" dy="21.4">кареткой</tspan><tspan x="4017" dy="21.4">Цена деления</tspan><tspan x="4017" dy="21.4">0,5″ и 1,0″</tspan><tspan x="4017" dy="21.4">L=(0,25-10,00) м</tspan><tspan x="4017" dy="21.4">Δ=(1,0+0,7· L+</tspan><tspan x="4017" dy="21.4">+0,03· H) мкм</tspan></text></g>
<g id="mub"><rect class="b" x="4137" y="2378" width="168" height="186"/><text x="4221" y="2404"><tspan x="4221">Электронные</tspan><tspan x="4221" dy="21.4">уровни</tspan><tspan x="4221" dy="21.4">Цена деления</tspan><tspan x="4221" dy="21.4">0,5″ и 1,0″</tspan><tspan x="4221" dy="21.4">L=(0,4-10,0) м</tspan><tspan x="4221" dy="21.4">Δ=(0,5+0,5· L+</tspan><tspan x="4221" dy="21.4">+0,04· H) мкм</tspan></text></g>
<g id="m16"><rect class="b" x="4417" y="2378" width="169" height="186"/><text x="4501" y="2404"><tspan x="4501">Поверочные</tspan><tspan x="4501" dy="21.4">линейки типов</tspan><tspan x="4501" dy="21.4">ШД, ШП, ШПХ</tspan><tspan x="4501" dy="21.4">Класс точности 2</tspan><tspan x="4501" dy="21.4">L=(0,4-4,0) м</tspan><tspan x="4501" dy="21.4">H=(10-60) мкм</tspan></text></g>
<g id="m17"><rect class="b" x="4710" y="2378" width="168" height="186"/><text x="4794" y="2404"><tspan x="4794">Трубы визирные</tspan><tspan x="4794" dy="21.4">L=(0,5-30,0) м</tspan><tspan x="4794" dy="21.4">Δ=(20+5·L) мкм</tspan></text></g>
<g id="l1"><rect class="b" x="495" y="2636" width="169" height="187"/><text x="579" y="2662"><tspan x="579">Поверочные</tspan><tspan x="579" dy="21.4">плиты</tspan><tspan x="579" dy="21.4">Классы</tspan><tspan x="579" dy="21.4">точности 000,</tspan><tspan x="579" dy="21.4">00 и 0</tspan><tspan x="579" dy="21.4">L=(0,25-0,63) м</tspan><tspan x="579" dy="21.4">H=(1,2-8) мкм</tspan></text></g>
<g id="l2"><rect class="b" x="719" y="2636" width="170" height="187"/><text x="804" y="2662"><tspan x="804">Поверочные</tspan><tspan x="804" dy="21.4">плиты</tspan><tspan x="804" dy="21.4">L=0,16 м</tspan><tspan x="804" dy="21.4">H=(8-30) мкм</tspan><tspan x="804" dy="21.4">Δ =(0,5+0,5· L+</tspan><tspan x="804" dy="21.4">+0,01· H) мкм</tspan></text></g>
<g id="l3"><rect class="b" x="943" y="2636" width="169" height="187"/><text x="1028" y="2662"><tspan x="1028">Поверочные</tspan><tspan x="1028" dy="21.4">линейки типов</tspan><tspan x="1028" dy="21.4">ШМ, УТ, УТ-ТК</tspan><tspan x="1028" dy="21.4">Классы</tspan><tspan x="1028" dy="21.4">точности 01 и 1</tspan><tspan x="1028" dy="21.4">L=(0,40-0,63) м</tspan><tspan x="1028" dy="21.4">H=(4-8) мкм</tspan></text></g>
<g id="l4"><rect class="b" x="1166" y="2636" width="169" height="187"/><text x="1251" y="2662"><tspan x="1251">Поверочные</tspan><tspan x="1251" dy="21.4">плиты</tspan><tspan x="1251" dy="21.4">Классы</tspan><tspan x="1251" dy="21.4">точности 1</tspan><tspan x="1251" dy="21.4">L=(0,25-0,63) м</tspan><tspan x="1251" dy="21.4">H=(8-16) мкм</tspan></text></g>
<g id="l5"><rect class="b" x="1401" y="2636" width="169" height="187"/><text x="1485" y="2662"><tspan x="1485">Поверочные</tspan><tspan x="1485" dy="21.4">линейки типов</tspan><tspan x="1485" dy="21.4">ШП, ШПХ, ШД,</tspan><tspan x="1485" dy="21.4">ШМ, УТ, ШМ-ТК</tspan><tspan x="1485" dy="21.4">Класс  точности 0</tspan><tspan x="1485" dy="21.4">L=(0,63-1,6) м</tspan><tspan x="1485" dy="21.4">H=(3-6) мкм</tspan></text></g>
<g id="l6"><rect class="b" x="1613" y="2636" width="169" height="187"/><text x="1697" y="2662"><tspan x="1697">Поверочные</tspan><tspan x="1697" dy="21.4">плиты</tspan><tspan x="1697" dy="21.4">Класс</tspan><tspan x="1697" dy="21.4">точности 1</tspan><tspan x="1697" dy="21.4">L=(0,4-1,0) м</tspan><tspan x="1697" dy="21.4">H=(12-20) мкм</tspan></text></g>
<g id="l7"><rect class="b" x="1848" y="2636" width="169" height="187"/><text x="1932" y="2662"><tspan x="1932">Поверочные</tspan><tspan x="1932" dy="21.4">линейки типов</tspan><tspan x="1932" dy="21.4">ШМ, УТ, ШМ-ТК</tspan><tspan x="1932" dy="21.4">Классы</tspan><tspan x="1932" dy="21.4">точности 01 и 1</tspan><tspan x="1932" dy="21.4">L=(0,4-1,6) м</tspan><tspan x="1932" dy="21.4">H=(4-16) мкм</tspan></text></g>
<g id="l8"><rect class="b" x="2072" y="2636" width="168" height="187"/><text x="2156" y="2662"><tspan x="2156">Поверочные</tspan><tspan x="2156" dy="21.4">плиты</tspan><tspan x="2156" dy="21.4">Класс</tspan><tspan x="2156" dy="21.4">точности 2</tspan><tspan x="2156" dy="21.4">L=(0,25-1,00) м</tspan><tspan x="2156" dy="21.4">H=(16-40) мкм</tspan></text></g>
<g id="l9"><rect class="b" x="2281" y="2636" width="169" height="187"/><text x="2365" y="2662"><tspan x="2365">Автоматические</tspan><tspan x="2365" dy="21.4">автоколлима-</tspan><tspan x="2365" dy="21.4">ционные и</tspan><tspan x="2365" dy="21.4">гравитационные</tspan><tspan x="2365" dy="21.4">приборы</tspan><tspan x="2365" dy="21.4">L=(0,4-10,0) м</tspan><tspan x="2365" dy="21.4">Δ=(1+0,5· L+</tspan><tspan x="2365" dy="21.4">+0,02· H) мкм</tspan></text></g>
<g id="l10"><rect class="b" x="2523" y="2636" width="169" height="187"/><text x="2607" y="2662"><tspan x="2607">Поверочные</tspan><tspan x="2607" dy="21.4">плиты</tspan><tspan x="2607" dy="21.4">Классы</tspan><tspan x="2607" dy="21.4">точности 000,</tspan><tspan x="2607" dy="21.4">00 и 0</tspan><tspan x="2607" dy="21.4">L=(0,25-0,63) м</tspan><tspan x="2607" dy="21.4">H=(1,2-16) мкм</tspan></text></g>
<g id="l11"><rect class="b" x="2741" y="2636" width="168" height="187"/><text x="2825" y="2662"><tspan x="2825">Поверочные</tspan><tspan x="2825" dy="21.4">линейки типов</tspan><tspan x="2825" dy="21.4">ШП, ШПХ, ШД</tspan><tspan x="2825" dy="21.4">Классы точности</tspan><tspan x="2825" dy="21.4">01 и 1</tspan><tspan x="2825" dy="21.4">L=(0,4-4,0) м</tspan><tspan x="2825" dy="21.4">H=(4-40) мкм</tspan></text></g>
<g id="l12"><rect class="b" x="2961" y="2636" width="170" height="187"/><text x="3046" y="2662"><tspan x="3046">Поверочные</tspan><tspan x="3046" dy="21.4">линейки типов</tspan><tspan x="3046" dy="21.4">ШМ, УТ</tspan><tspan x="3046" dy="21.4">Класс точности 2</tspan><tspan x="3046" dy="21.4">L=(0,4-3,0) м</tspan><tspan x="3046" dy="21.4">H=(10-50) мкм</tspan></text></g>
<g id="l13"><rect class="b" x="3188" y="2636" width="169" height="187"/><text x="3272" y="2662"><tspan x="3272">Блоки типа ИБП</tspan><tspan x="3272" dy="21.4">L=(1,6-4,0) м</tspan><tspan x="3272" dy="21.4">H=(4-1000) мкм</tspan></text></g>
<g id="l14"><rect class="b" x="3397" y="2636" width="169" height="187"/><text x="3481" y="2662"><tspan x="3481">Гидростатические</tspan><tspan x="3481" dy="21.4">уровни</tspan><tspan x="3481" dy="21.4">Цена деления</tspan><tspan x="3481" dy="21.4">10 мкм</tspan><tspan x="3481" dy="21.4">L=(0,5-6,0) м</tspan><tspan x="3481" dy="21.4">H=(10+3· L) мкм</tspan></text></g>
<g id="l15"><rect class="b" x="3606" y="2636" width="168" height="187"/><text x="3690" y="2662"><tspan x="3690">Оптические</tspan><tspan x="3690" dy="21.4">плоскомеры</tspan><tspan x="3690" dy="21.4">Цена деления</tspan><tspan x="3690" dy="21.4">1 мкм</tspan><tspan x="3690" dy="21.4">L=(0,5-5,0) м</tspan><tspan x="3690" dy="21.4">H=(5+5· L) мкм</tspan></text></g>
<g id="l16"><rect class="b" x="3824" y="2636" width="169" height="187"/><text x="3908" y="2662"><tspan x="3908">Автоколлиматоры</tspan><tspan x="3908" dy="21.4">с измерительной</tspan><tspan x="3908" dy="21.4">кареткой</tspan><tspan x="3908" dy="21.4">Цена деления</tspan><tspan x="3908" dy="21.4">0,20″ и 0,25″</tspan><tspan x="3908" dy="21.4">L=(0,25-10,00) м</tspan><tspan x="3908" dy="21.4">H=(1,0+0,5· L+</tspan><tspan x="3908" dy="21.4">+0,02· H) мкм</tspan></text></g>
<g id="l17"><rect class="b" x="4026" y="2636" width="169" height="187"/><text x="4110" y="2662"><tspan x="4110">Электронные</tspan><tspan x="4110" dy="21.4">уровни</tspan><tspan x="4110" dy="21.4">Цена деления</tspan><tspan x="4110" dy="21.4">0,1″ и 0,2″</tspan><tspan x="4110" dy="21.4">L=(0,4-10,0) м</tspan><tspan x="4110" dy="21.4">H=(0,5+0,5· L+</tspan><tspan x="4110" dy="21.4">+0,02· H) мкм</tspan></text></g>
<g id="l18"><rect class="b" x="4248" y="2636" width="169" height="187"/><text x="4332" y="2662"><tspan x="4332">Микронивелиры</tspan><tspan x="4332" dy="21.4">типа МН-2 и</tspan><tspan x="4332" dy="21.4">брусковые уровни</tspan><tspan x="4332" dy="21.4">Цена деления</tspan><tspan x="4332" dy="21.4">0,02 мм/м</tspan><tspan x="4332" dy="21.4">L=(0,4-10,0) м</tspan><tspan x="4332" dy="21.4">H=(2+L+</tspan><tspan x="4332" dy="21.4">+0,042· H) мкм</tspan></text></g>
<g id="l19"><rect class="b" x="4453" y="2636" width="169" height="187"/><text x="4537" y="2662"><tspan x="4537">Поверочные</tspan><tspan x="4537" dy="21.4">плиты</tspan><tspan x="4537" dy="21.4">Класс</tspan><tspan x="4537" dy="21.4">точности 1</tspan><tspan x="4537" dy="21.4">L=(0,25-2,50) м</tspan><tspan x="4537" dy="21.4">H=(10-30) мкм</tspan></text></g>
<g id="l20"><rect class="b" x="4662" y="2636" width="169" height="187"/><text x="4747" y="2662"><tspan x="4747">Поверочные</tspan><tspan x="4747" dy="21.4">линейки типа</tspan><tspan x="4747" dy="21.4">ШМ, ШМ-ТК, УТ,</tspan><tspan x="4747" dy="21.4">УТ-ТК</tspan><tspan x="4747" dy="21.4">и блоки типа ИБП</tspan><tspan x="4747" dy="21.4">Класс точности 1</tspan><tspan x="4747" dy="21.4">L=(0,4-5,0) м</tspan><tspan x="4747" dy="21.4">H=(6-40) мкм</tspan></text></g>
<g id="l21"><rect class="b" x="4891" y="2638" width="168" height="187"/><text x="4975" y="2664"><tspan x="4975">Поверочные</tspan><tspan x="4975" dy="21.4">линейки типов</tspan><tspan x="4975" dy="21.4">ШД, ШП, ШП-ТК,</tspan><tspan x="4975" dy="21.4">ШПХ</tspan><tspan x="4975" dy="21.4">Классы точности</tspan><tspan x="4975" dy="21.4">0 и 01</tspan><tspan x="4975" dy="21.4">L=(0,4-3,0) м</tspan><tspan x="4975" dy="21.4">H=(2,5-20) мкм</tspan></text></g>
</g>
</svg>
